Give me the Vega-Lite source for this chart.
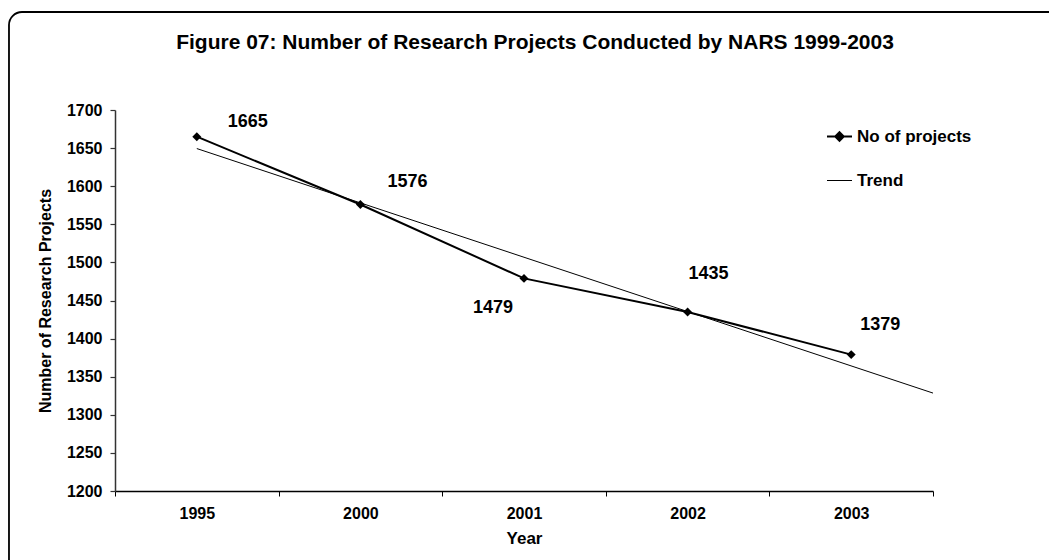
{
  "$schema": "https://vega.github.io/schema/vega-lite/v6.json",
  "width": 818,
  "height": 381,
  "autosize": {"type": "none"},
  "padding": {"left": 115, "top": 110, "right": 116, "bottom": 69},
  "background": "white",
  "title": {
    "text": "Figure 07: Number of Research Projects Conducted by NARS 1999-2003",
    "font": "Liberation Sans",
    "fontSize": 21,
    "fontWeight": "bold",
    "color": "black",
    "anchor": "middle",
    "dx": 11,
    "offset": -42
  },
  "config": {
    "view": {"stroke": null},
    "font": "Liberation Sans"
  },
  "datasets": {
    "main": [
      {"year": "1995", "idx": 1, "projects": 1665, "series": "No of projects"},
      {"year": "2000", "idx": 2, "projects": 1576, "series": "No of projects"},
      {"year": "2001", "idx": 3, "projects": 1479, "series": "No of projects"},
      {"year": "2002", "idx": 4, "projects": 1435, "series": "No of projects"},
      {"year": "2003", "idx": 5, "projects": 1379, "series": "No of projects"}
    ],
    "trend": [
      {"idx": 1, "projects": 1649.4, "series": "Trend"},
      {"idx": 5.5, "projects": 1328.5, "series": "Trend"}
    ]
  },
  "layer": [
    {
      "data": {"name": "main"},
      "mark": {"type": "line", "strokeWidth": 2, "point": {"shape": "diamond", "size": 80, "filled": true, "color": "black", "opacity": 1}},
      "encoding": {
        "x": {
          "field": "idx",
          "type": "quantitative",
          "scale": {"domain": [0.5, 5.5], "nice": false, "zero": false},
          "axis": {
            "values": [0.5, 1, 1.5, 2, 2.5, 3, 3.5, 4, 4.5, 5, 5.5],
            "tickCount": 30,
            "labelExpr": "datum.value == 1 ? '1995' : datum.value == 2 ? '2000' : datum.value == 3 ? '2001' : datum.value == 4 ? '2002' : datum.value == 5 ? '2003' : ''",
            "tickOpacity": {"condition": {"test": "datum.value % 1 == 0", "value": 0}, "value": 1},
            "title": "Year",
            "grid": false,
            "domainColor": "black",
            "domainWidth": 1.5,
            "tickColor": "black",
            "tickSize": 5,
            "labelOverlap": false,
            "labelFlush": false,
            "labelFont": "Liberation Sans",
            "labelFontSize": 16,
            "labelFontWeight": "bold",
            "labelColor": "black",
            "labelPadding": 9,
            "titleFont": "Liberation Sans",
            "titleFontSize": 17,
            "titleFontWeight": "bold",
            "titleColor": "black",
            "titlePadding": 9
          }
        },
        "y": {
          "field": "projects",
          "type": "quantitative",
          "scale": {"domain": [1200, 1700], "nice": false, "zero": false},
          "axis": {
            "values": [1200, 1250, 1300, 1350, 1400, 1450, 1500, 1550, 1600, 1650, 1700],
            "tickCount": 30,
            "format": "d",
            "labelOverlap": false,
            "labelFlush": false,
            "title": "Number of Research Projects",
            "grid": false,
            "domainColor": "#333333",
            "domainWidth": 1.5,
            "tickColor": "#333333",
            "tickWidth": 1.2,
            "tickSize": 5,
            "labelFont": "Liberation Sans",
            "labelFontSize": 16,
            "labelFontWeight": "bold",
            "labelColor": "black",
            "labelPadding": 8,
            "titleFont": "Liberation Sans",
            "titleFontSize": 16,
            "titleFontWeight": "bold",
            "titleColor": "black",
            "titlePadding": 13
          }
        },
        "color": {
          "field": "series",
          "type": "nominal",
          "scale": {"domain": ["No of projects", "Trend"], "range": ["black", "black"]},
          "legend": {
            "orient": "none",
            "legendX": 716,
            "legendY": 18,
            "title": null,
            "padding": 0,
            "symbolSize": 625,
            "labelFont": "Liberation Sans",
            "labelFontSize": 17,
            "labelFontWeight": "bold",
            "labelColor": "black",
            "labelOffset": 9,
            "rowPadding": 26,
            "encode": {
              "symbols": {
                "update": {
                  "shape": {"signal": "datum.value === 'Trend' ? 'M-1,0L1,0' : 'M-1,0L1,0M0,-0.34L0.34,0L0,0.34L-0.34,0Z'"},
                  "fill": {"value": "black"},
                  "stroke": {"value": "black"},
                  "strokeWidth": {"signal": "datum.value === 'Trend' ? 1 : 2"},
                  "opacity": {"value": 1}
                }
              }
            }
          }
        }
      }
    },
    {
      "data": {"name": "trend"},
      "mark": {"type": "line", "strokeWidth": 1},
      "encoding": {
        "x": {"field": "idx", "type": "quantitative"},
        "y": {"field": "projects", "type": "quantitative"},
        "color": {"field": "series", "type": "nominal"}
      }
    },
    {
      "data": {"name": "main"},
      "transform": [{"filter": "datum.year == '1995'"}],
      "mark": {"type": "text", "dx": 51, "dy": -15, "fontSize": 18, "fontWeight": "bold", "font": "Liberation Sans", "color": "black"},
      "encoding": {
        "x": {"field": "idx", "type": "quantitative"},
        "y": {"field": "projects", "type": "quantitative"},
        "text": {"field": "projects", "type": "quantitative"}
      }
    },
    {
      "data": {"name": "main"},
      "transform": [{"filter": "datum.year == '2000'"}],
      "mark": {"type": "text", "dx": 47, "dy": -22, "fontSize": 18, "fontWeight": "bold", "font": "Liberation Sans", "color": "black"},
      "encoding": {
        "x": {"field": "idx", "type": "quantitative"},
        "y": {"field": "projects", "type": "quantitative"},
        "text": {"field": "projects", "type": "quantitative"}
      }
    },
    {
      "data": {"name": "main"},
      "transform": [{"filter": "datum.year == '2001'"}],
      "mark": {"type": "text", "dx": -31, "dy": 30, "fontSize": 18, "fontWeight": "bold", "font": "Liberation Sans", "color": "black"},
      "encoding": {
        "x": {"field": "idx", "type": "quantitative"},
        "y": {"field": "projects", "type": "quantitative"},
        "text": {"field": "projects", "type": "quantitative"}
      }
    },
    {
      "data": {"name": "main"},
      "transform": [{"filter": "datum.year == '2002'"}],
      "mark": {"type": "text", "dx": 21, "dy": -38, "fontSize": 18, "fontWeight": "bold", "font": "Liberation Sans", "color": "black"},
      "encoding": {
        "x": {"field": "idx", "type": "quantitative"},
        "y": {"field": "projects", "type": "quantitative"},
        "text": {"field": "projects", "type": "quantitative"}
      }
    },
    {
      "data": {"name": "main"},
      "transform": [{"filter": "datum.year == '2003'"}],
      "mark": {"type": "text", "dx": 29, "dy": -30, "fontSize": 18, "fontWeight": "bold", "font": "Liberation Sans", "color": "black"},
      "encoding": {
        "x": {"field": "idx", "type": "quantitative"},
        "y": {"field": "projects", "type": "quantitative"},
        "text": {"field": "projects", "type": "quantitative"}
      }
    },
    {
      "data": {"values": [{}]},
      "mark": {"type": "rect", "fill": "transparent", "stroke": "black", "strokeWidth": 1.8, "cornerRadius": 13},
      "encoding": {
        "x": {"datum": -0.148, "type": "quantitative"},
        "x2": {"datum": 6.4},
        "y": {"datum": 1828.6, "type": "quantitative"},
        "y2": {"datum": 1080}
      }
    }
  ]
}
